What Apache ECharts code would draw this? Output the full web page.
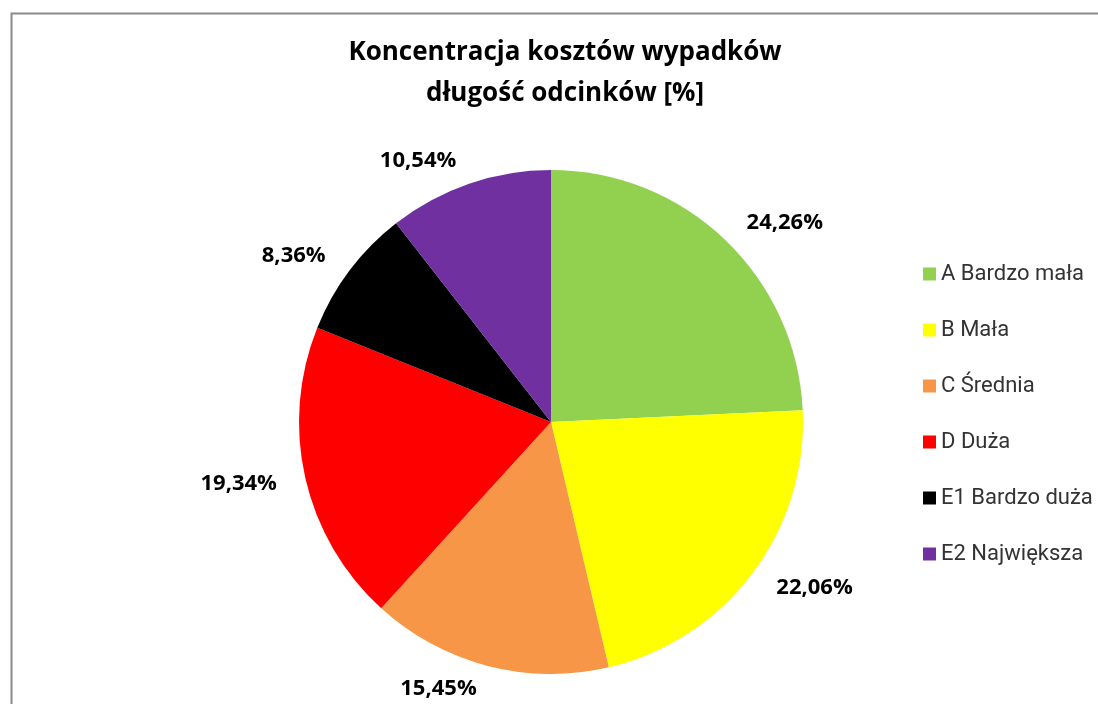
<!DOCTYPE html>
<html><head><meta charset="utf-8">
<script src="https://cdn.jsdelivr.net/npm/echarts@6/dist/echarts.min.js"></script>
<style>html,body{margin:0;padding:0;background:#fff}#c{width:1098px;height:704px}</style>
</head><body><div id="c"></div>
<script>
const categories = ["A Bardzo mała", "B Mała", "C Średnia", "D Duża", "E1 Bardzo duża", "E2 Największa"];
const values = [24.26, 22.06, 15.45, 19.34, 8.36, 10.54];
const colors = ["#92D050", "#FFFF00", "#F79646", "#FF0000", "#000000", "#7030A0"];
const titleText = "Koncentracja kosztów wypadków\ndługość odcinków [%]";

const chart = echarts.init(document.getElementById('c'));
chart.setOption({
  animation: false,
  backgroundColor: '#fff',
  graphic: [{
    type: 'rect', left: 9, top: 11,
    shape: { x: 0, y: 0, width: 1200, height: 800 },
    style: { fill: 'none', stroke: '#8a8a8a', lineWidth: 2 }
  }],
  title: {
    text: titleText, left: 560, top: 27, textAlign: 'center',
    textStyle: { fontFamily: 'Open Sans', fontWeight: 'bold', fontSize: 26, lineHeight: 41, color: '#000' }
  },
  legend: {
    orient: 'vertical', left: 918, top: 258,
    itemWidth: 13, itemHeight: 13, itemGap: 34, icon: 'rect',
    textStyle: { fontFamily: 'Roboto, sans-serif', fontSize: 22, lineHeight: 22, color: '#333' },
    data: categories
  },
  series: [{
    type: 'pie', center: [551, 422], radius: 252, startAngle: 90, clockwise: true,
    avoidLabelOverlap: false,
    data: categories.map((n, i) => ({ name: n, value: values[i], itemStyle: { color: colors[i] } })),
    label: {
      show: true, position: 'outside', distance: 5,
      formatter: p => p.value.toFixed(2).replace('.', ',') + '%',
      fontFamily: 'Open Sans', fontWeight: 'bold', fontSize: 22, color: '#000'
    },
    labelLine: { show: false, length: 24, length2: 0 },
    emphasis: { disabled: true }
  }]
});
</script></body></html>
